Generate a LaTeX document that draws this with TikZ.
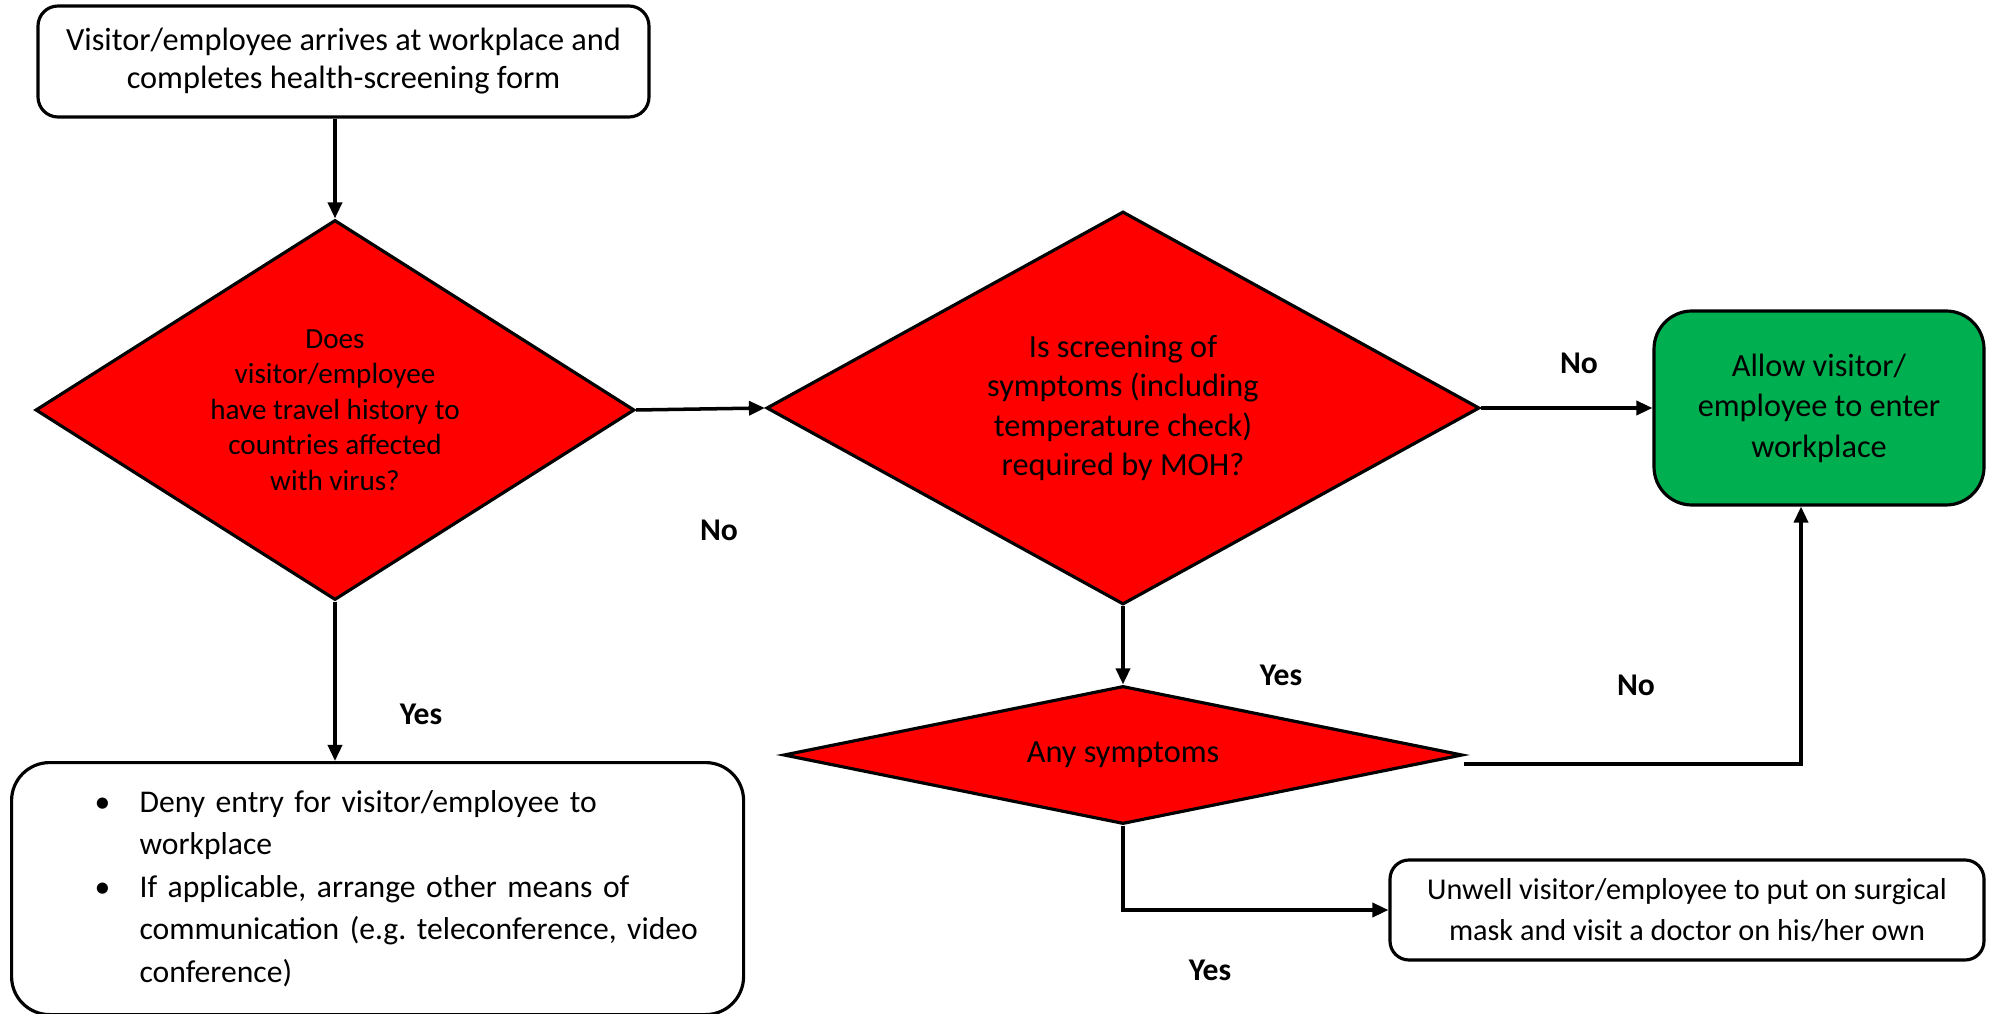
\documentclass[tikz,border=0pt]{standalone}
\usepackage{fontspec}
\setmainfont{Carlito}
\usetikzlibrary{shapes.geometric,arrows.meta}

\definecolor{alertred}{RGB}{255,0,0}
\definecolor{allowgreen}{RGB}{0,176,80}

\begin{document}
\frenchspacing
\begin{tikzpicture}[
  font=\fontsize{9.2}{11.2}\selectfont,
  box/.style={draw, line width=0.9pt, fill=white, rounded corners=0.2cm, align=center, inner sep=0pt},
  decision/.style={diamond, draw, line width=0.9pt, fill=alertred, align=center, inner sep=0pt},
  arrow/.style={line width=1pt, -{Triangle[length=0.16cm,width=0.14cm]}},
  answer/.style={font=\fontsize{9}{11}\selectfont\bfseries}
]
% Fix the page size
\useasboundingbox (0,0) rectangle (19.89,-10.14);

% Boxes and decisions
\node[box, minimum width=6.11cm, minimum height=1.11cm, font=\fontsize{9.2}{10.8}\selectfont] (arrive) at (3.435,-0.615) {Visitor/employee arrives at workplace and\\completes health-screening form};
\node[decision, minimum width=5.99cm, minimum height=3.80cm, aspect=1.58, font=\fontsize{8.3}{10.1}\selectfont] (travel) at (3.35,-4.10) {Does\\visitor/employee\\have travel history to\\countries affected\\with virus?};
\node[decision, minimum width=7.13cm, minimum height=3.93cm, aspect=1.8, font=\fontsize{9.2}{11.2}\selectfont] (screen) at (11.23,-4.08) {Is screening of\\symptoms (including\\temperature check)\\required by MOH?};
\node[box, fill=allowgreen, rounded corners=0.38cm, minimum width=3.30cm, minimum height=1.94cm, font=\fontsize{9.2}{11.5}\selectfont] (allow) at (18.19,-4.08) {Allow visitor/\\employee to enter\\workplace};
\node[decision, minimum width=6.79cm, minimum height=1.38cm, aspect=4.9] (symptoms) at (11.23,-7.55) {Any symptoms};
\node[box, rounded corners=0.19cm, minimum width=5.94cm, minimum height=1.00cm, font=\fontsize{8.6}{11.5}\selectfont] (unwell) at (16.87,-9.10) {Unwell visitor/employee to put on surgical\\mask and visit a doctor on his/her own};
\node[box, rounded corners=0.38cm, anchor=north west, minimum width=7.32cm, minimum height=2.52cm, text width=7.32cm, align=left, font=\fontsize{9}{12.1}\selectfont] (deny) at (0.10,-7.61) {\hspace*{0.83cm}\begin{tabular}{@{}p{0.45cm}@{}l@{}}
\textbullet & Deny entry for visitor/employee to\\
 & workplace\\
\textbullet & If applicable, arrange other means of\\
 & communication (e.g. teleconference, video\\
 & conference)
\end{tabular}};

% Answers
\node[answer] (no1) at (7.19,-5.30) {No};
\node[answer] (no2) at (15.79,-3.63) {No};
\node[answer] (yes1) at (12.81,-6.75) {Yes};
\node[answer] (no3) at (16.36,-6.85) {No};
\node[answer] (yes2) at (12.10,-9.70) {Yes};
\node[answer] (yes3) at (4.21,-7.14) {Yes};

% Connectors
\draw[arrow] (arrive.south -| travel.north) -- (travel.north);
\draw[arrow] (travel.east) -- (screen.west);
\draw[arrow] (screen.east) -- (allow.west);
\draw[arrow] (screen.south) -- (symptoms.north);
\draw[arrow] ([yshift=-0.09cm]symptoms.east) -| ([xshift=-0.18cm]allow.south);
\draw[arrow] (symptoms.south) |- (unwell.west);
\draw[arrow] (travel.south) -- (travel.south |- deny.north);
\end{tikzpicture}
\end{document}
